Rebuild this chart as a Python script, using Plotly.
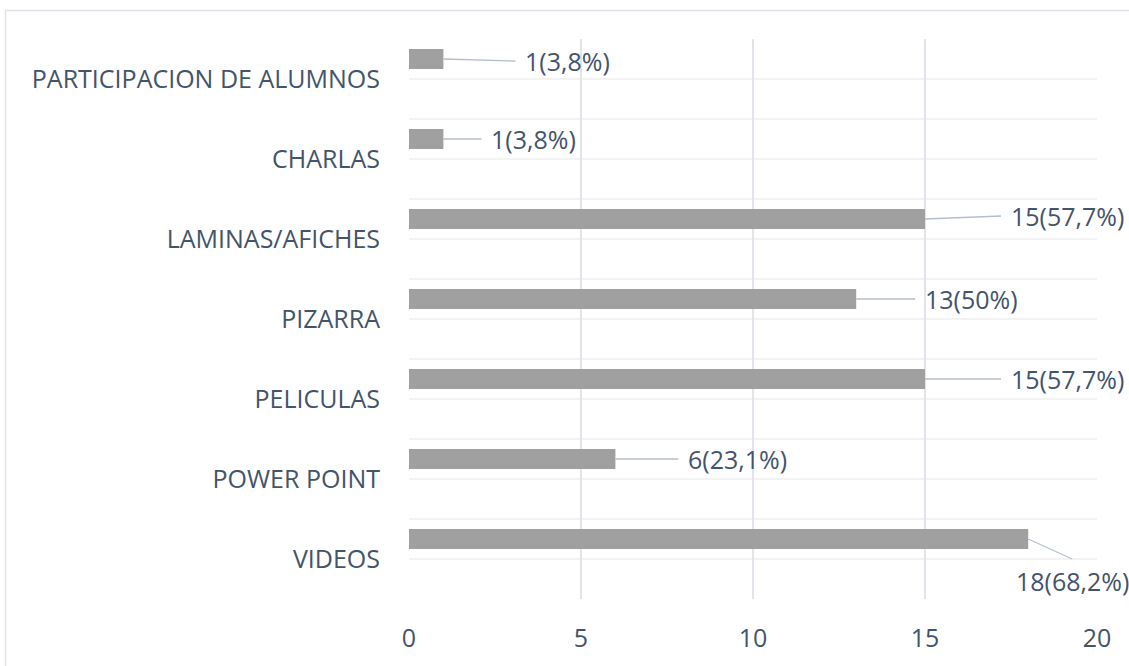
import plotly.graph_objects as go

categories = ["VIDEOS", "POWER POINT", "PELICULAS", "PIZARRA",
              "LAMINAS/AFICHES", "CHARLAS", "PARTICIPACION DE ALUMNOS"]
values = [18, 6, 15, 13, 15, 1, 1]
labels = ["18(68,2%)", "6(23,1%)", "15(57,7%)", "13(50%)",
          "15(57,7%)", "1(3,8%)", "1(3,8%)"]
x_ticks = [0, 5, 10, 15, 20]

# label placement offsets (px) relative to bar end
label_dx = [44, 63, 76, 59, 76, 38, 72]
label_dy = [20, 0, 0, 0, -3, 0, 2]

W, H = 1129, 666
ml, mr, mt, mb = 409, 32, 39, 67
TXT = "#44546A"
FONT = "Open Sans"
FS = 25

pos = list(range(len(categories)))

fig = go.Figure()
fig.add_trace(go.Bar(
    y=pos, x=values, orientation="h",
    width=0.25, offset=0.125,
    marker=dict(color="#a0a0a0", line=dict(width=0)),
    hoverinfo="skip",
))

for i, (v, lab) in enumerate(zip(values, labels)):
    below = label_dy[i] > 10
    fig.add_annotation(
        x=v, y=i + 0.25, xref="x", yref="y",
        text=lab, showarrow=True, arrowhead=0, arrowwidth=1.3,
        arrowcolor="#b4bfcc",
        ax=label_dx[i], ay=label_dy[i],
        xanchor="center" if below else "left",
        yanchor="top" if below else "middle",
        font=dict(family=FONT, size=FS, color=TXT),
        borderpad=4 if below else 9, standoff=0, startstandoff=0,
    )

pw = W - ml - mr
ph = H - mt - mb
def px2x(p):
    return (p - ml) / pw
def py2y(p):
    return (H - mb - p) / ph

fig.add_shape(type="rect", xref="paper", yref="paper",
              x0=px2x(5.5), x1=px2x(1170), y0=py2y(690), y1=py2y(10.5),
              line=dict(color="#dde1e8", width=1.5), fillcolor="rgba(0,0,0,0)",
              layer="below")

fig.update_layout(
    width=W, height=H,
    margin=dict(l=ml, r=mr, t=mt, b=mb),
    paper_bgcolor="white", plot_bgcolor="white",
    showlegend=False,
    font=dict(family=FONT, size=FS, color=TXT),
    xaxis=dict(range=[0, 20], tickvals=x_ticks, showgrid=True,
               gridcolor="#e1e5eb", gridwidth=2, zeroline=False,
               showline=False, ticks="", ticklabelstandoff=22,
               tickfont=dict(family=FONT, size=FS, color=TXT), fixedrange=True),
    yaxis=dict(range=[-0.5, 6.5], tickvals=pos, ticktext=categories,
               showgrid=False, zeroline=False, showline=False, ticks="",
               ticklabelstandoff=28,
               minor=dict(tick0=-0.5, dtick=0.5, showgrid=True,
                          gridcolor="#f3f3f3", gridwidth=1.5, ticks=""),
               tickfont=dict(family=FONT, size=FS, color=TXT), fixedrange=True),
)

fig.write_html("out.html", config={"displayModeBar": False})
with open("out.html", "r", encoding="utf-8") as f:
    html = f.read()
html = html.replace("<head>", "<head><style>html,body{margin:0;padding:0;overflow:hidden;}</style>", 1)
with open("out.html", "w", encoding="utf-8") as f:
    f.write(html)
